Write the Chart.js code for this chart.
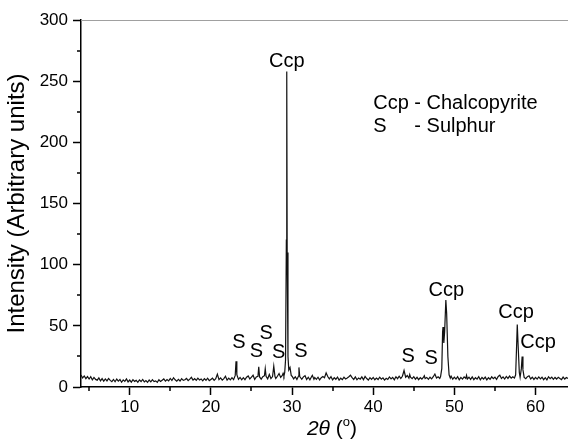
<!DOCTYPE html>
<html>
<head>
<meta charset="utf-8">
<script src="https://cdn.jsdelivr.net/npm/chart.js@4.4.0/dist/chart.umd.min.js"></script>
<style>
html, body { margin: 0; padding: 0; background: #fff; }
#wrap { width: 568px; height: 443px; }
</style>
</head>
<body>
<div id="wrap"><canvas id="xrd"></canvas></div>
<script>
// XRD pattern (2theta in degrees, intensity in arbitrary units)
const twoTheta = [
    4.0, 4.2, 4.4, 4.6, 4.8, 5.0, 5.2, 5.4, 5.6, 5.8, 6.0, 6.2, 6.4, 6.6, 6.8,
    7.0, 7.2, 7.4, 7.6, 7.8, 8.0, 8.2, 8.4, 8.6, 8.8, 9.0, 9.2, 9.4, 9.6, 9.8,
    10.0, 10.2, 10.4, 10.6, 10.8, 11.0, 11.2, 11.4, 11.6, 11.8, 12.0, 12.2, 12.4, 12.6, 12.8,
    13.0, 13.2, 13.4, 13.6, 13.8, 14.0, 14.2, 14.4, 14.6, 14.8, 15.0, 15.2, 15.4, 15.6, 15.8,
    16.0, 16.2, 16.4, 16.6, 16.8, 17.0, 17.2, 17.4, 17.6, 17.8, 18.0, 18.2, 18.4, 18.6, 18.8,
    19.0, 19.2, 19.4, 19.6, 19.8, 20.0, 20.2, 20.4, 20.6, 20.8, 21.0, 21.2, 21.4, 21.6, 21.8,
    22.0, 22.2, 22.4, 22.6, 22.8, 23.0, 23.1, 23.2, 23.4, 23.6, 23.8, 24.0, 24.2, 24.4, 24.6, 24.8,
    25.0, 25.2, 25.4, 25.6, 25.8, 25.9, 26.0, 26.2, 26.4, 26.6, 26.7, 26.8, 27.0, 27.2, 27.4, 27.6, 27.75, 27.9,
    28.0, 28.2, 28.4, 28.6, 28.8, 28.9, 29.0, 29.1, 29.2, 29.3, 29.35, 29.4, 29.5, 29.6, 29.75, 29.9,
    30.0, 30.2, 30.4, 30.6, 30.8, 30.85, 30.95, 31.2, 31.4, 31.6, 31.8, 32.0, 32.2, 32.4, 32.5, 32.7, 32.8,
    33.0, 33.2, 33.4, 33.6, 33.8, 34.0, 34.2, 34.4, 34.6, 34.8, 35.0, 35.2, 35.4, 35.6, 35.8,
    36.0, 36.2, 36.4, 36.6, 36.8, 37.0, 37.2, 37.4, 37.6, 37.8, 38.0, 38.2, 38.4, 38.6, 38.8,
    39.0, 39.2, 39.4, 39.6, 39.8, 40.0, 40.2, 40.4, 40.6, 40.8, 41.0, 41.2, 41.4, 41.6, 41.8,
    42.0, 42.2, 42.4, 42.6, 42.8, 43.0, 43.2, 43.4, 43.6, 43.8, 44.0, 44.2, 44.4, 44.5, 44.6, 44.8,
    45.0, 45.2, 45.4, 45.6, 45.8, 46.0, 46.2, 46.3, 46.4, 46.6, 46.8, 47.0, 47.2, 47.4, 47.6, 47.8,
    48.0, 48.2, 48.3, 48.45, 48.55, 48.6, 48.7, 48.8, 48.95, 49.05, 49.2, 49.35, 49.5, 49.6, 49.8,
    50.0, 50.2, 50.4, 50.6, 50.8, 51.0, 51.2, 51.4, 51.5, 51.6, 51.8, 52.0, 52.2, 52.4, 52.6, 52.8,
    53.0, 53.2, 53.4, 53.6, 53.8, 54.0, 54.2, 54.4, 54.6, 54.8, 55.0, 55.2, 55.4, 55.6, 55.8,
    56.0, 56.2, 56.4, 56.6, 56.8, 57.0, 57.2, 57.4, 57.55, 57.65, 57.75, 57.85, 58.0, 58.1, 58.25, 58.35, 58.45, 58.6, 58.8,
    59.0, 59.2, 59.4, 59.6, 59.8, 60.0, 60.2, 60.4, 60.6, 60.8, 61.0, 61.2, 61.4, 61.6, 61.8,
    62.0, 62.2, 62.4, 62.6, 62.8, 63.0, 63.2, 63.4, 63.6, 63.8, 64.0
];
const intensity = [
    9.8, 7.4, 9.0, 6.8, 8.5, 6.5, 8.4, 5.8, 7.8, 6.2, 5.6, 7.4, 5.0, 6.9, 4.8,
    6.6, 5.0, 7.0, 5.4, 4.4, 6.2, 4.3, 6.5, 4.8, 6.1, 3.9, 5.8, 4.6, 6.6, 4.2,
    5.7, 4.0, 6.0, 4.6, 5.4, 3.8, 5.8, 4.5, 6.2, 4.2, 5.3, 3.8, 5.7, 4.2, 6.0,
    4.4, 5.0, 3.8, 5.9, 4.6, 5.6, 6.6, 4.8, 6.1, 5.0, 7.0, 5.3, 7.6, 5.9, 4.8,
    6.2, 4.9, 6.8, 5.4, 5.9, 7.0, 5.2, 6.4, 7.9, 5.6, 6.8, 5.4, 7.2, 5.8, 6.6,
    5.0, 6.8, 5.5, 7.2, 5.2, 6.2, 7.2, 5.4, 6.8, 10.5, 6.0, 7.4, 5.6, 6.9, 8.8,
    5.6, 7.2, 5.8, 7.6, 6.0, 9.5, 21.0, 10.0, 6.2, 7.8, 5.9, 7.6, 6.0, 8.0, 9.0, 6.6,
    8.0, 9.6, 6.2, 8.2, 8.8, 16.5, 8.2, 6.4, 8.4, 9.2, 15.0, 8.8, 6.6, 10.2, 6.9, 8.5, 17.0, 8.6,
    7.0, 8.8, 11.0, 7.8, 9.4, 11.2, 9.0, 12.0, 22.0, 120.0, 258.0, 110.0, 25.0, 14.0, 16.0, 9.5,
    8.8, 6.6, 8.4, 6.2, 9.0, 16.0, 8.5, 6.3, 8.3, 9.2, 6.1, 8.0, 5.9, 8.4, 9.5, 6.4, 7.8,
    6.3, 8.0, 5.8, 7.6, 8.6, 7.6, 11.5, 8.6, 6.6, 8.4, 5.8, 7.6, 6.3, 8.1, 5.6,
    7.2, 6.0, 8.0, 6.6, 7.4, 8.4, 9.6, 7.6, 6.2, 8.2, 5.9, 7.4, 6.4, 8.3, 6.0,
    8.6, 6.9, 5.7, 7.6, 6.2, 7.8, 5.9, 7.3, 6.1, 8.0, 6.4, 7.5, 5.6, 7.1, 6.2,
    8.2, 6.6, 7.9, 5.9, 8.4, 6.8, 8.8, 7.0, 8.8, 13.5, 8.0, 9.4, 7.2, 10.2, 8.0, 6.8,
    8.4, 6.4, 7.9, 6.0, 7.6, 6.5, 8.1, 9.2, 6.9, 7.8, 6.3, 8.0, 6.7, 8.4, 10.6, 7.4,
    8.4, 7.0, 8.5, 15.0, 45.0, 49.0, 36.0, 45.0, 71.0, 60.0, 25.0, 10.0, 7.2, 8.8, 6.4,
    8.1, 6.5, 8.4, 5.9, 7.8, 6.4, 8.3, 7.0, 9.6, 6.6, 8.0, 6.2, 8.2, 6.0, 7.6, 6.4,
    8.4, 5.9, 7.8, 6.5, 8.1, 5.8, 7.6, 6.3, 8.3, 6.8, 8.1, 6.2, 8.6, 9.6, 7.0,
    8.3, 6.5, 8.6, 7.0, 8.9, 7.2, 8.4, 7.4, 10.0, 30.0, 51.0, 35.0, 12.0, 8.0, 15.0, 25.0, 14.0, 7.8, 6.8,
    8.4, 9.2, 6.6, 8.0, 6.2, 7.8, 6.4, 8.2, 6.6, 8.0, 6.0, 7.6, 5.9, 8.4, 6.8,
    8.1, 6.3, 7.8, 6.5, 8.0, 7.0, 6.0, 8.1, 6.5, 7.7, 7.0
];

// axis ticks
const xMajor = [10, 20, 30, 40, 50, 60];
const xMinor = [5, 15, 25, 35, 45, 55];
const yMajor = [0, 50, 100, 150, 200, 250, 300];
const yMinor = [25, 75, 125, 175, 225, 275];

// phase labels over the peaks
const peakNames = ["Ccp", "S", "S", "S", "S", "S", "S", "S", "Ccp", "Ccp", "Ccp"];
const peakAt = [29.35, 23.45, 25.6, 26.8, 28.35, 31.1, 44.3, 47.15, 49.0, 57.6, 60.3];
const peakLabelY = [266, 36, 29, 44, 28, 29, 25, 23, 79, 61, 36];

const FONT = '"Liberation Sans", Arial, Helvetica, sans-serif';

const points = twoTheta.map((t, i) => ({ x: t, y: intensity[i] }));

const decor = {
    id: "decor",
    afterDraw(chart) {
        const ctx = chart.ctx;
        const a = chart.chartArea;
        const x = chart.scales.x;
        const y = chart.scales.y;
        ctx.save();

        // thin grey frame line on top
        ctx.strokeStyle = "#a0a0a0";
        ctx.lineWidth = 1;
        ctx.beginPath();
        ctx.moveTo(a.left, a.top + 0.5);
        ctx.lineTo(a.right, a.top + 0.5);
        ctx.stroke();

        // minor ticks
        ctx.strokeStyle = "#000";
        ctx.lineWidth = 1.5;
        ctx.beginPath();
        xMinor.forEach(v => {
            const px = Math.round(x.getPixelForValue(v));
            ctx.moveTo(px, a.bottom);
            ctx.lineTo(px, a.bottom + 4);
        });
        yMinor.forEach(v => {
            const py = Math.round(y.getPixelForValue(v));
            ctx.moveTo(a.left, py);
            ctx.lineTo(a.left - 4, py);
        });
        ctx.stroke();

        ctx.fillStyle = "#000";
        ctx.textBaseline = "middle";

        // peak labels
        ctx.font = "20px " + FONT;
        ctx.textAlign = "center";
        peakNames.forEach((t, i) => {
            ctx.fillText(t, x.getPixelForValue(peakAt[i]), y.getPixelForValue(peakLabelY[i]));
        });

        // key
        ctx.textAlign = "left";
        const kx = x.getPixelForValue(40.0);
        const dash = ctx.measureText("Ccp ").width;
        ctx.fillText("Ccp - Chalcopyrite", kx, y.getPixelForValue(232));
        ctx.fillText("S", kx, y.getPixelForValue(213));
        ctx.fillText("- Sulphur", kx + dash, y.getPixelForValue(213));

        // x axis title: italic 2theta, degree as superscript o
        const ty = 429;
        ctx.font = "italic 21px " + FONT;
        const w1 = ctx.measureText("2\u03B8").width;
        ctx.font = "21px " + FONT;
        const w2 = ctx.measureText(" (").width;
        const w4 = ctx.measureText(")").width;
        ctx.font = "13px " + FONT;
        const w3 = ctx.measureText("o").width;
        let tx = 332 - (w1 + w2 + w3 + w4) / 2;
        ctx.font = "italic 21px " + FONT;
        ctx.fillText("2\u03B8", tx, ty);
        tx += w1;
        ctx.font = "21px " + FONT;
        ctx.fillText(" (", tx, ty);
        tx += w2;
        ctx.font = "13px " + FONT;
        ctx.fillText("o", tx, ty - 7);
        tx += w3;
        ctx.font = "21px " + FONT;
        ctx.fillText(")", tx, ty);

        ctx.restore();
    }
};

new Chart(document.getElementById("xrd"), {
    type: "line",
    data: {
        datasets: [{
            data: points,
            borderColor: "#111",
            borderWidth: 1.2,
            pointRadius: 0,
            tension: 0,
            fill: false
        }]
    },
    options: {
        responsive: true,
        maintainAspectRatio: false,
        animation: false,
        layout: { padding: { top: 20, right: 0, left: 0, bottom: 0 } },
        plugins: { legend: { display: false }, tooltip: { enabled: false } },
        scales: {
            x: {
                type: "linear",
                min: 4,
                max: 64,
                afterBuildTicks: s => { s.ticks = xMajor.map(v => ({ value: v })); },
                afterFit: s => { s.height = 56; },
                grid: { drawOnChartArea: false, tickLength: 8, tickColor: "#000", tickWidth: 1.5 },
                border: { color: "#000", width: 1.5 },
                ticks: { color: "#000", padding: 2, maxRotation: 0, font: { family: FONT, size: 17 } },
                title: { display: false }
            },
            y: {
                min: 0,
                max: 300,
                afterBuildTicks: s => { s.ticks = yMajor.map(v => ({ value: v })); },
                afterFit: s => { s.width = 81; },
                grid: { drawOnChartArea: false, tickLength: 8, tickColor: "#000", tickWidth: 1.5 },
                border: { color: "#000", width: 1.5 },
                ticks: { color: "#000", padding: 5, font: { family: FONT, size: 17 } },
                title: {
                    display: true,
                    text: "Intensity (Arbitrary units)",
                    color: "#000",
                    font: { family: FONT, size: 24 },
                    padding: { top: 3, bottom: 0 }
                }
            }
        }
    },
    plugins: [decor]
});
</script>
</body>
</html>
